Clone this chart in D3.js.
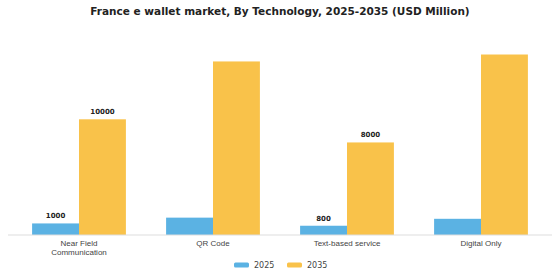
<!DOCTYPE html>
<html>
<head>
<meta charset="utf-8">
<script src="https://cdn.jsdelivr.net/npm/d3@7"></script>
<style>
  body { margin: 0; background: #fff; }
  svg { font-family: "DejaVu Sans", sans-serif; }
</style>
</head>
<body>
<div class="box"></div>
<script>
// data
const categories = ['Near Field\nCommunication', 'QR Code', 'Text-based service', 'Digital Only'];
const years = ['2025', '2035'];
const values2025 = [1000, 1500, 800, 1400];
const values2035 = [10000, 15000, 8000, 15600];
// only some bars carry a label in the picture
const labels2025 = ['1000', null, '800', null];
const labels2035 = ['10000', null, '8000', null];
const colors = ['#5bb2e3', '#f9c24a'];

const width = 560, height = 280;
const margin = {top: 20, right: 12, bottom: 45, left: 12};
const graphWidth = width - margin.left - margin.right;
const graphHeight = height - margin.top - margin.bottom;

const svg = d3.select('.box')
              .append('svg')
              .attr('width', width)
              .attr('height', height);

const graph = svg.append('g')
                 .attr('transform', `translate(${margin.left}, ${margin.top})`);

svg.append('text')
   .text('France e wallet market, By Technology, 2025-2035 (USD Million)')
   .attr('x', width / 2)
   .attr('y', 15)
   .attr('text-anchor', 'middle')
   .style('font-weight', 'bold')
   .style('font-size', '10.5px')
   .style('fill', '#222');

// scales
const x = d3.scaleBand()
            .domain(categories)
            .range([0, graphWidth])
            .paddingInner(0.3)
            .paddingOuter(0.15);

const xInner = d3.scaleBand()
                 .domain(years)
                 .range([0, x.bandwidth()]);

const y = d3.scaleLinear()
            .domain([0, 10000])
            .range([graphHeight, graphHeight - 115.7]);

const series = [values2025, values2035];
const seriesLabels = [labels2025, labels2035];

series.forEach((vals, s) => {
  const rows = vals.map((v, i) => ({cat: categories[i], value: v, label: seriesLabels[s][i]}));

  graph.selectAll('rect.s' + s)
       .data(rows)
       .enter()
       .append('rect')
       .attr('class', 's' + s)
       .attr('x', d => x(d.cat) + xInner(years[s]))
       .attr('y', d => y(d.value))
       .attr('width', xInner.bandwidth())
       .attr('height', d => graphHeight - y(d.value))
       .attr('fill', colors[s]);

  graph.selectAll('text.l' + s)
       .data(rows.filter(d => d.label !== null))
       .enter()
       .append('text')
       .attr('class', 'l' + s)
       .attr('x', d => x(d.cat) + xInner(years[s]) + xInner.bandwidth() / 2)
       .attr('y', d => y(d.value) - 5)
       .attr('text-anchor', 'middle')
       .style('font-size', '7px')
       .style('font-weight', 'bold')
       .style('fill', '#222')
       .text(d => d.label);
});

// x axis
const groupeX = graph.append('g')
                     .attr('transform', `translate(0, ${graphHeight})`);
groupeX.call(d3.axisBottom(x).tickSize(0).tickFormat(''));
groupeX.select('.domain')
       .attr('stroke', '#ddd')
       .attr('d', `M-4,0H${graphWidth + 4}`);

groupeX.selectAll('.tick').each(function(d) {
  const t = d3.select(this).append('text')
              .attr('text-anchor', 'middle')
              .attr('fill', '#444')
              .style('font-size', '8px');
  d.split('\n').forEach((line, k) => {
    t.append('tspan').attr('x', 0).attr('y', 11 + k * 9).text(line);
  });
});

// legend
const legend = svg.append('g').attr('transform', 'translate(234, 265)');
years.forEach((yr, s) => {
  const g = legend.append('g').attr('transform', `translate(${s * 53}, 0)`);
  g.append('rect')
   .attr('x', 0).attr('y', -2.5)
   .attr('width', 15).attr('height', 5)
   .attr('rx', 1.5)
   .attr('fill', colors[s]);
  g.append('text')
   .attr('x', 20).attr('y', 3)
   .style('font-size', '8px')
   .attr('fill', '#444')
   .text(yr);
});
</script>
</body>
</html>
